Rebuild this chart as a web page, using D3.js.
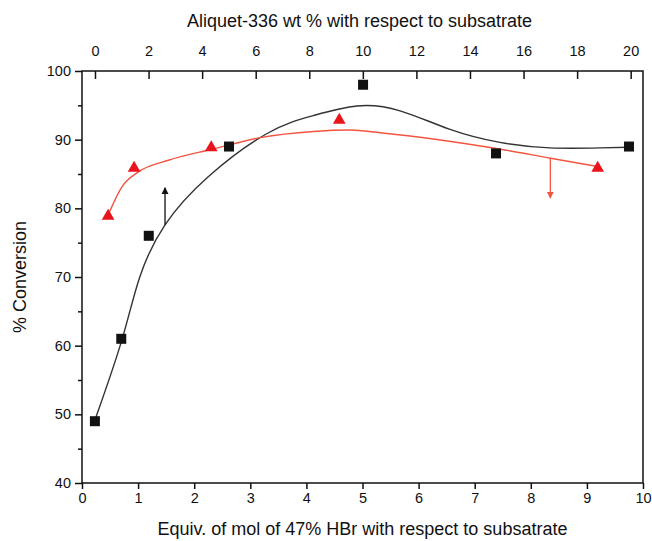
<!doctype html>
<html lang="en">
<head>
<meta charset="utf-8">
<script src="https://cdn.jsdelivr.net/npm/d3@7/dist/d3.min.js"></script>
<style>
    body { margin: 0; background: #fff; }
    svg text { font-family: "Liberation Sans", Arial, sans-serif; fill: #111; }
</style>
</head>
<body>
<div id="chart"></div>
<script>
    // black squares, plotted against the bottom axis (equiv. HBr)
    var hbrX = [0.23, 0.7, 1.19, 2.62, 5.01, 7.38, 9.75];
    var hbrY = [49, 61, 76, 89, 98, 88, 89];
    // black fitted curve
    var hbrFitX = [0.25, 0.71, 1.03, 1.48, 2.25, 3.3, 4.12, 4.9, 5.67, 6.56, 7.45, 8.34, 9.23, 9.75];
    var hbrFitY = [49.6, 60.8, 70.0, 77.6, 84.6, 90.9, 93.5, 94.9, 94.2, 91.5, 89.6, 88.8, 88.8, 88.9];

    // red triangles, plotted against the top axis (Aliquet-336 wt %)
    var aliX = [0.49, 1.46, 4.34, 9.12, 18.77];
    var aliY = [79, 86, 89, 93, 86];
    var aliFitX = [0.52, 1.0, 1.62, 2.74, 4.36, 6.17, 8.16, 9.53, 10.65, 15.14, 17.01, 18.76];
    var aliFitY = [79.3, 83.1, 85.3, 87.0, 88.6, 90.3, 91.2, 91.4, 91.0, 88.6, 87.3, 86.1];

    var bottomTicks = [0, 1, 2, 3, 4, 5, 6, 7, 8, 9, 10];
    var topTicks = [0, 2, 4, 6, 8, 10, 12, 14, 16, 18, 20];
    var leftTicks = [40, 50, 60, 70, 80, 90, 100];
    var leftMinor = [45, 55, 65, 75, 85, 95];

    var W = 652, H = 541;
    var margin = {top: 71, right: 9, bottom: 58, left: 82};
    var width = W - margin.left - margin.right,
        height = H - margin.top - margin.bottom;

    var x = d3.scaleLinear().domain([0, 10]).range([0, width]);
    var xTop = d3.scaleLinear().domain([-0.485, 20.46]).range([0, width]);
    var y = d3.scaleLinear().domain([40, 100]).range([height, 0]);

    var svg = d3.select("#chart").append("svg")
        .attr("width", W)
        .attr("height", H)
        .append("g")
        .attr("transform", "translate(" + margin.left + "," + margin.top + ")");

    // frame
    svg.append("rect")
        .attr("width", width)
        .attr("height", height)
        .attr("fill", "none")
        .attr("stroke", "#111")
        .attr("stroke-width", 1.5);

    // axes
    var xAxis = d3.axisBottom(x).tickValues(bottomTicks).tickSize(6).tickPadding(4).tickFormat(d3.format("d"));
    var xTopAxis = d3.axisTop(xTop).tickValues(topTicks).tickSize(-8).tickPadding(15).tickFormat(d3.format("d"));
    var yAxis = d3.axisLeft(y).tickValues(leftTicks).tickSize(7).tickPadding(4).tickFormat(d3.format("d"));
    var yMinor = d3.axisLeft(y).tickValues(leftMinor).tickSize(4).tickFormat("");

    function styleAxis(g) {
        g.select(".domain").remove();
        g.selectAll(".tick line").attr("stroke", "#111").attr("stroke-width", 1.5);
        g.selectAll(".tick text").style("font-size", "14.5px").attr("fill", "#111");
    }

    svg.append("g").attr("transform", "translate(0," + height + ")").call(xAxis).call(styleAxis);
    svg.append("g").call(xTopAxis).call(styleAxis);
    svg.append("g").call(yAxis).call(styleAxis);
    svg.append("g").call(yMinor).call(styleAxis);

    // axis titles
    svg.append("text")
        .attr("x", width / 2)
        .attr("y", height + 52)
        .attr("text-anchor", "middle")
        .style("font-size", "18px")
        .text("Equiv. of mol of 47% HBr with respect to subsatrate");

    svg.append("text")
        .attr("x", width / 2 - 3)
        .attr("y", -44)
        .attr("text-anchor", "middle")
        .style("font-size", "18px")
        .text("Aliquet-336 wt % with respect to subsatrate");

    svg.append("text")
        .attr("transform", "translate(-56," + (height / 2) + ") rotate(-90)")
        .attr("text-anchor", "middle")
        .style("font-size", "18px")
        .text("% Conversion");

    // fitted curves
    var hbrFit = hbrFitX.map(function(d, i) { return [d, hbrFitY[i]]; });
    var aliFit = aliFitX.map(function(d, i) { return [d, aliFitY[i]]; });

    var lineBottom = d3.line()
        .x(function(d) { return x(d[0]); })
        .y(function(d) { return y(d[1]); })
        .curve(d3.curveNatural);
    var lineTop = d3.line()
        .x(function(d) { return xTop(d[0]); })
        .y(function(d) { return y(d[1]); })
        .curve(d3.curveMonotoneX);

    svg.append("path")
        .attr("fill", "none")
        .attr("stroke", "#333")
        .attr("stroke-width", 1.4)
        .attr("d", lineBottom(hbrFit));

    svg.append("path")
        .attr("fill", "none")
        .attr("stroke", "#f2553f")
        .attr("stroke-width", 1.4)
        .attr("d", lineTop(aliFit));

    // arrows showing which axis each series belongs to
    var defs = svg.append("defs");
    function marker(id, color) {
        defs.append("marker")
            .attr("id", id)
            .attr("viewBox", "0 0 10 10")
            .attr("refX", 9)
            .attr("refY", 5)
            .attr("markerUnits", "userSpaceOnUse")
            .attr("markerWidth", 7)
            .attr("markerHeight", 11)
            .attr("orient", "auto")
            .append("path")
            .attr("d", "M0,0 L10,5 L0,10 Z")
            .attr("fill", color);
    }
    marker("headBlack", "#111");
    marker("headRed", "#f2553f");

    svg.append("line")
        .attr("x1", x(1.48)).attr("x2", x(1.48))
        .attr("y1", y(77.6)).attr("y2", y(83.0))
        .attr("stroke", "#111")
        .attr("stroke-width", 1.3)
        .attr("marker-end", "url(#headBlack)");

    svg.append("line")
        .attr("x1", xTop(17.0)).attr("x2", xTop(17.0))
        .attr("y1", y(87.3)).attr("y2", y(81.5))
        .attr("stroke", "#f2553f")
        .attr("stroke-width", 1.3)
        .attr("marker-end", "url(#headRed)");

    // markers
    svg.selectAll(".sq")
        .data(hbrX)
        .enter().append("rect")
        .attr("class", "sq")
        .attr("x", function(d) { return x(d) - 5; })
        .attr("y", function(d, i) { return y(hbrY[i]) - 5; })
        .attr("width", 10)
        .attr("height", 10)
        .attr("fill", "#111");

    var tri = d3.symbol().type(d3.symbolTriangle).size(70);
    svg.selectAll(".tri")
        .data(aliX)
        .enter().append("path")
        .attr("class", "tri")
        .attr("transform", function(d, i) { return "translate(" + xTop(d) + "," + (y(aliY[i]) + 1) + ")"; })
        .attr("d", tri)
        .attr("fill", "#e8131b");
</script>
</body>
</html>
